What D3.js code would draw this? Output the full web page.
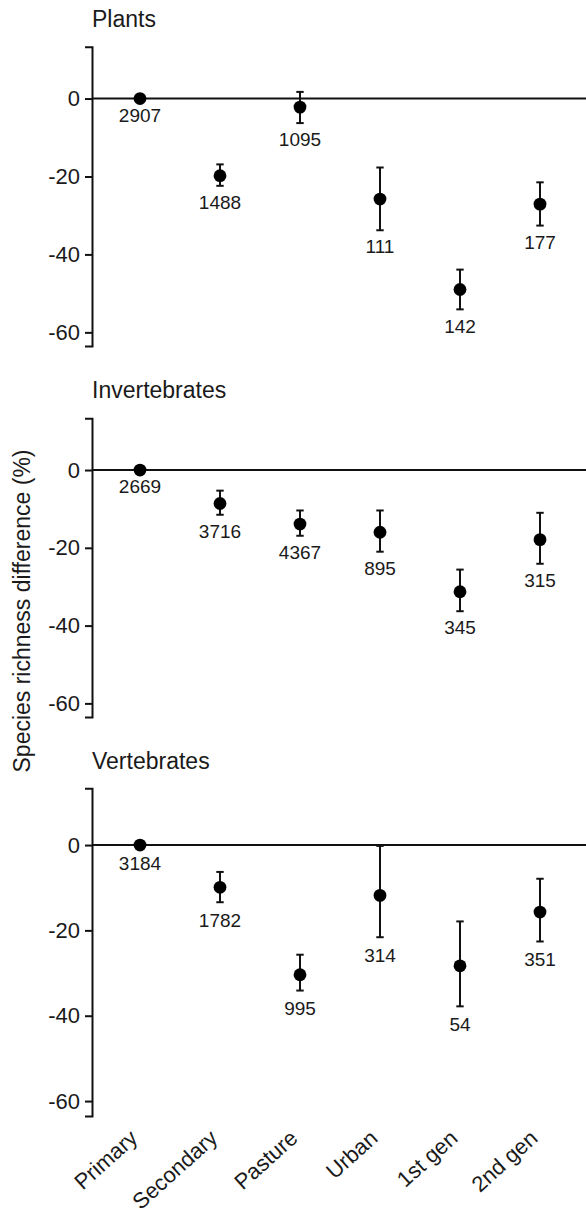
<!DOCTYPE html>
<html>
<head>
<meta charset="utf-8">
<script src="https://cdn.jsdelivr.net/npm/d3@7"></script>
<style>
  html, body { margin: 0; padding: 0; background: #fff; }
  svg text { font-family: "Liberation Sans", Arial, sans-serif; fill: #1a1a1a; }
</style>
</head>
<body>
<svg id="chart" width="586" height="1221"></svg>
<script>
// Land-use categories along the x axis
const categories = ["Primary", "Secondary", "Pasture", "Urban", "1st gen", "2nd gen"];
const yTicks = [0, -20, -40, -60];

// Plants: estimate, lower and upper interval, number of sites
const plantsEst   = [0, -19.8, -2.2, -25.8, -49.0, -27.1];
const plantsLower = [0, -22.4, -6.3, -33.8, -54.1, -32.6];
const plantsUpper = [0, -16.9,  1.7, -17.7, -43.9, -21.5];
const plantsN     = [2907, 1488, 1095, 111, 142, 177];

// Invertebrates
const invertEst   = [0, -8.6, -13.9, -16.0, -31.3, -17.9];
const invertLower = [0, -11.5, -16.9, -21.0, -36.3, -24.1];
const invertUpper = [0, -5.3, -10.4, -10.4, -25.6, -11.0];
const invertN     = [2669, 3716, 4367, 895, 345, 315];

// Vertebrates
const vertEst   = [0, -9.9, -30.4, -11.8, -28.3, -15.7];
const vertLower = [0, -13.4, -34.1, -21.6, -37.8, -22.6];
const vertUpper = [0, -6.3, -25.7, -0.2, -17.9, -7.9];
const vertN     = [3184, 1782, 995, 314, 54, 351];

const panels = [
  { title: "Plants",        est: plantsEst, lower: plantsLower, upper: plantsUpper, n: plantsN, top: 46.7,  bottom: 346,  titleY: 27 },
  { title: "Invertebrates", est: invertEst, lower: invertLower, upper: invertUpper, n: invertN, top: 418.3, bottom: 717,  titleY: 398 },
  { title: "Vertebrates",   est: vertEst,   lower: vertLower,   upper: vertUpper,   n: vertN,   top: 788.3, bottom: 1116, titleY: 769 }
];

const svg = d3.select("#chart");
const left = 92, right = 588;
const yDomain = [-63.5, 13.3];

const x = d3.scalePoint().domain(categories).range([left, right]).padding(0.6);

panels.forEach(p => {
  const y = d3.scaleLinear().domain(yDomain).range([p.bottom, p.top]);
  const g = svg.append("g");

  // panel title
  g.append("text")
    .attr("x", left).attr("y", p.titleY)
    .style("font-size", "23px")
    .text(p.title);

  // y axis
  const axis = d3.axisLeft(y).tickValues(yTicks).tickSize(7).tickPadding(5).tickFormat(d3.format("d"));
  const ag = g.append("g").attr("transform", `translate(${left},0)`).call(axis);
  ag.select(".domain").attr("stroke", "#111").attr("stroke-width", 2);
  ag.selectAll(".tick line").attr("stroke", "#111").attr("stroke-width", 2);
  ag.selectAll(".tick text").style("font-size", "22px").attr("fill", "#1a1a1a")
    .text(d => d < 0 ? "-" + Math.abs(d) : d);

  // reference line at zero
  g.append("line")
    .attr("x1", left).attr("x2", 586)
    .attr("y1", y(0)).attr("y2", y(0))
    .attr("stroke", "#111").attr("stroke-width", 2);

  const rows = categories.map((c, i) => ({ c, est: p.est[i], lo: p.lower[i], hi: p.upper[i], n: p.n[i] }));

  // error bars
  const eb = g.selectAll(".err").data(rows.filter(d => d.hi !== d.lo)).join("g").attr("class", "err")
    .attr("stroke", "#111").attr("stroke-width", 2);
  eb.append("line").attr("x1", d => x(d.c)).attr("x2", d => x(d.c)).attr("y1", d => y(d.hi)).attr("y2", d => y(d.lo));
  eb.append("line").attr("x1", d => x(d.c) - 3.7).attr("x2", d => x(d.c) + 3.7).attr("y1", d => y(d.hi)).attr("y2", d => y(d.hi));
  eb.append("line").attr("x1", d => x(d.c) - 3.7).attr("x2", d => x(d.c) + 3.7).attr("y1", d => y(d.lo)).attr("y2", d => y(d.lo));

  // points
  g.selectAll(".pt").data(rows).join("circle").attr("class", "pt")
    .attr("cx", d => x(d.c)).attr("cy", d => y(d.est)).attr("r", 6.4).attr("fill", "#000");

  // sample-size labels beneath each interval
  g.selectAll(".n").data(rows).join("text").attr("class", "n")
    .attr("x", d => x(d.c)).attr("y", d => y(d.lo - 4.2))
    .attr("dy", "0.36em").attr("text-anchor", "middle")
    .style("font-size", "19px")
    .text(d => d.n);
});

// shared y-axis title
svg.append("text")
  .attr("transform", "translate(30,611) rotate(-90)")
  .attr("text-anchor", "middle")
  .style("font-size", "23px")
  .text("Species richness difference (%)");

// rotated category labels
svg.selectAll(".xl").data(categories).join("text").attr("class", "xl")
  .attr("transform", d => `translate(${x(d) - 1},1140) rotate(-42)`)
  .attr("text-anchor", "end")
  .style("font-size", "22px")
  .text(d => d);
</script>
</body>
</html>
